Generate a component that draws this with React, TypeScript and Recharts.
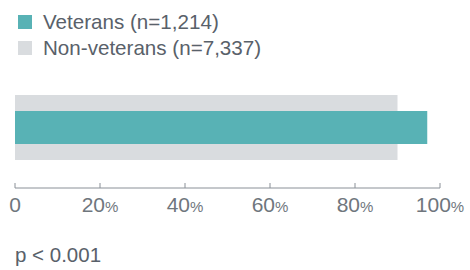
import { BarChart, Bar, XAxis, YAxis } from "recharts";

const groups = ["All respondents"];
const veterans = [97];
const nonVeterans = [90];
const seriesNames = ["Veterans (n=1,214)", "Non-veterans (n=7,337)"];
const seriesColors = ["#58b2b5", "#d9dcdf"];
const xTicks = [0, 20, 40, 60, 80, 100];
const pNote = "p < 0.001";

const data = groups.map((g, i) => ({
  group: g,
  veterans: veterans[i],
  nonVeterans: nonVeterans[i],
}));

const font = "'Liberation Sans', Arial, sans-serif";

function PercentTick(props: any) {
  const { x, y, payload } = props;
  const v = payload.value;
  return (
    <g>
      <line x1={x} x2={x} y1={y - 5} y2={y} stroke="#8a9097" strokeWidth={1} />
      <text
        x={x}
        y={y + 24}
        textAnchor="middle"
        fill="#6f767d"
        fontFamily={font}
        fontSize={21}
      >
        <tspan>{v}</tspan>
        {v !== 0 && <tspan fontSize={15}>%</tspan>}
      </text>
    </g>
  );
}

export default function App() {
  return (
    <div
      style={{
        position: "absolute",
        left: 0,
        top: 0,
        width: 470,
        height: 270,
        background: "#fff",
        fontFamily: font,
      }}
    >
      {/* legend */}
      <div style={{ position: "absolute", left: 18, top: 9 }}>
        {seriesNames.map((name, i) => (
          <div
            key={name}
            style={{
              display: "flex",
              alignItems: "center",
              height: 26,
              lineHeight: "26px",
              fontSize: 20.6,
              color: "#59616a",
            }}
          >
            <span
              style={{
                width: 14,
                height: 14,
                background: seriesColors[i],
                marginRight: 11,
                display: "inline-block",
              }}
            />
            {name}
          </div>
        ))}
      </div>

      <BarChart
        width={470}
        height={270}
        data={data}
        layout="vertical"
        margin={{ top: 67, right: 30, left: 15, bottom: 42 }}
      >
        <XAxis
          type="number"
          domain={[0, 100]}
          ticks={xTicks}
          interval={0}
          axisLine={{ stroke: "#8a9097" }}
          tickLine={false}
          tickSize={0}
          tickMargin={0}
          height={40}
          tick={<PercentTick />}
        />
        <YAxis yAxisId="back" type="category" dataKey="group" hide />
        <YAxis yAxisId="front" type="category" dataKey="group" hide />
        <Bar
          yAxisId="back"
          dataKey="nonVeterans"
          name={seriesNames[1]}
          fill={seriesColors[1]}
          barSize={65}
          isAnimationActive={false}
        />
        <Bar
          yAxisId="front"
          dataKey="veterans"
          name={seriesNames[0]}
          fill={seriesColors[0]}
          barSize={33}
          isAnimationActive={false}
        />
      </BarChart>

      <div
        style={{
          position: "absolute",
          left: 15,
          top: 245,
          fontSize: 20.5,
          lineHeight: "20px",
          color: "#59616a",
        }}
      >
        {pNote}
      </div>
    </div>
  );
}
